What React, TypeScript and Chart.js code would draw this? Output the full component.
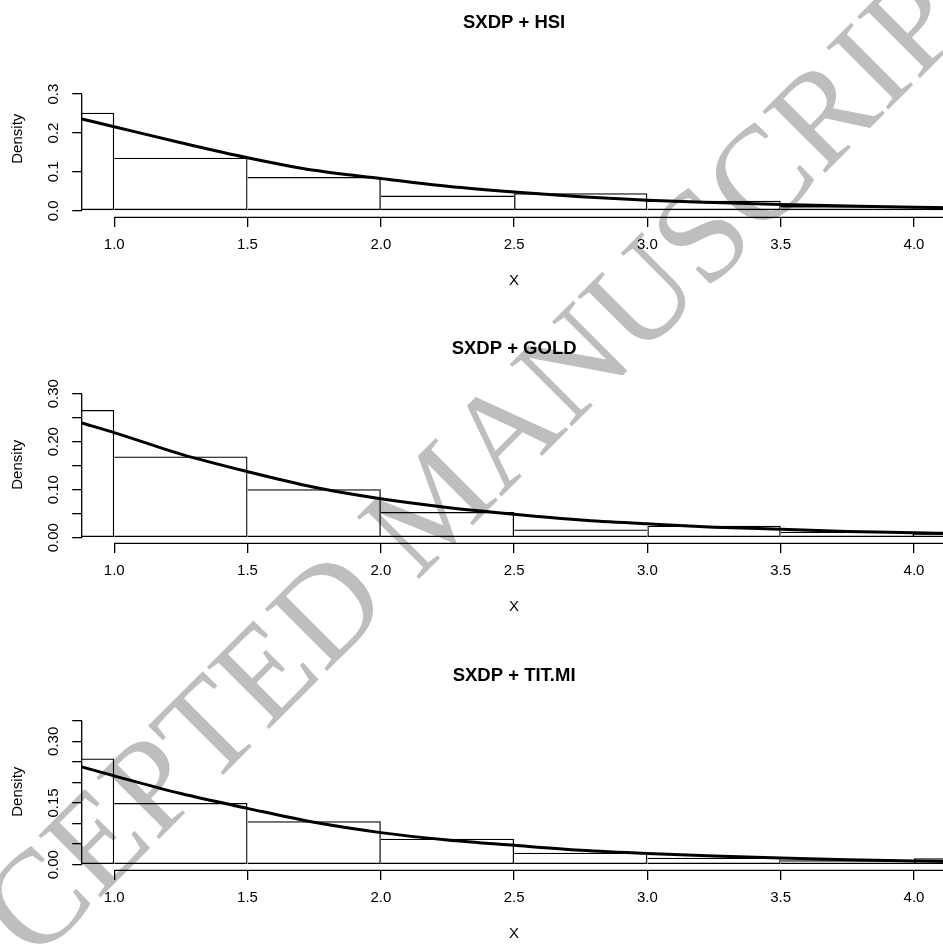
import React, { useEffect, useRef } from "react";
import { Chart, registerables } from "chart.js";

Chart.register(...registerables);

// ---------- data ----------
const panelTitles = ["SXDP + HSI", "SXDP + GOLD", "SXDP + TIT.MI"];

// histogram bins (width 0.5), given by their centres
const binCenters = [0.75, 1.25, 1.75, 2.25, 2.75, 3.25, 3.75, 4.25];
const densityHSI = [0.252, 0.1365, 0.087, 0.039, 0.045, 0.026, 0.012, 0.006];
const densityGOLD = [0.266, 0.169, 0.101, 0.0535, 0.0172, 0.025, 0.0125, 0.009];
const densityTIT = [0.2586, 0.15, 0.1055, 0.0632, 0.029, 0.017, 0.011, 0.0155];

// fitted density curve
const curveX = [0.878, 1.0, 1.25, 1.5, 1.75, 2.0, 2.25, 2.5, 2.75, 3.0, 3.25, 3.5, 3.75, 4.0, 4.122];
const curveHSI = [0.236, 0.216, 0.175, 0.1365, 0.104, 0.083, 0.063, 0.048, 0.036, 0.027, 0.021, 0.016, 0.012, 0.009, 0.008];
const curveGOLD = [0.239, 0.219, 0.174, 0.1375, 0.105, 0.081, 0.063, 0.049, 0.037, 0.029, 0.022, 0.0175, 0.013, 0.0104, 0.009];
const curveTIT = [0.238, 0.216, 0.173, 0.137, 0.103, 0.078, 0.06, 0.047, 0.035, 0.027, 0.021, 0.016, 0.012, 0.009, 0.008];

// axes
const xRange = [0.878, 4.122];
const xTicks = [1.0, 1.5, 2.0, 2.5, 3.0, 3.5, 4.0];
const xTickLabels = ["1.0", "1.5", "2.0", "2.5", "3.0", "3.5", "4.0"];

const yTicksHSI = [0, 0.1, 0.2, 0.3];
const yLabelsHSI = ["0.0", "0.1", "0.2", "0.3"];
const yRangeHSI = [-0.017, 0.3877];

const yTicksGOLD = [0, 0.05, 0.1, 0.15, 0.2, 0.25, 0.3];
const yLabelsGOLD = ["0.00", "", "0.10", "", "0.20", "", "0.30"];
const yRangeGOLD = [-0.0119, 0.316];

const yTicksTIT = [0, 0.05, 0.1, 0.15, 0.2, 0.25, 0.3, 0.35];
const yLabelsTIT = ["0.00", "", "", "0.15", "", "", "0.30", ""];
const yRangeTIT = [-0.0139, 0.369];

const xAxisTitle = "X";
const yAxisTitle = "Density";
const watermarkText = "ACCEPTED MANUSCRIPT";

// ---------- drawing ----------
const FONT = '"Liberation Sans", Arial, Helvetica, sans-serif';
const LW = 1.3;

// R-style axis lines: y from first to last tick, x from first tick to the right edge
const rAxisLines = {
  id: "rAxisLines",
  afterDraw(chart: any) {
    const { ctx, chartArea, scales } = chart;
    const x = scales.x;
    const y = scales.y;
    ctx.save();
    ctx.strokeStyle = "#000";
    ctx.lineWidth = LW;
    ctx.beginPath();
    const yt = y.ticks;
    ctx.moveTo(chartArea.left, y.getPixelForValue(yt[0].value));
    ctx.lineTo(chartArea.left, y.getPixelForValue(yt[yt.length - 1].value));
    ctx.moveTo(x.getPixelForValue(x.ticks[0].value), chartArea.bottom);
    ctx.lineTo(chartArea.right, chartArea.bottom);
    ctx.stroke();
    ctx.restore();
  },
};

type PanelProps = {
  title: string;
  bars: number[];
  curve: number[];
  yTicks: number[];
  yLabels: string[];
  yRange: number[];
  yPad: number;
  top: number;
};

const CANVAS_W = 960;
const CANVAS_H = 327;

function Panel({ title, bars, curve, yTicks, yLabels, yRange, yPad, top }: PanelProps) {
  const ref = useRef<HTMLCanvasElement>(null);
  useEffect(() => {
    // a shared edge between two bins is drawn once, by the taller bin
    const barBorder = (c: any) => {
      const i = c.dataIndex;
      if (i === undefined) return LW;
      const n = bars.length;
      const left = i === 0 || bars[i] >= bars[i - 1] ? LW : 0;
      const right = i === n - 1 || bars[i] > bars[i + 1] ? LW : 0;
      return { top: LW, bottom: LW, left, right };
    };
    const chart = new Chart(ref.current as HTMLCanvasElement, {
      type: "bar",
      data: {
        datasets: [
          {
            type: "line",
            data: curveX.map((x, i) => ({ x, y: curve[i] })),
            borderColor: "#000",
            borderWidth: 3,
            pointRadius: 0,
            cubicInterpolationMode: "monotone",
            fill: false,
            order: 0,
          } as any,
          {
            type: "bar",
            data: binCenters.map((x, i) => ({ x, y: bars[i] })),
            backgroundColor: "rgba(0,0,0,0)",
            borderColor: "#000",
            borderWidth: barBorder,
            borderSkipped: false,
            inflateAmount: 0,
            barPercentage: 1,
            categoryPercentage: 1,
            order: 1,
          } as any,
        ],
      },
      options: {
        animation: false,
        responsive: false,
        events: [],
        layout: { padding: { left: 0, right: CANVAS_W - 946.5, top: 0, bottom: 0 } },
        plugins: {
          legend: { display: false },
          tooltip: { enabled: false },
          title: {
            display: true,
            text: title,
            fullSize: false,
            color: "#000",
            font: { family: FONT, size: 18.5, weight: "bold", lineHeight: 1.2 },
            padding: { top: 11.4, bottom: 26.4 },
          },
        },
        scales: {
          x: {
            type: "linear",
            min: xRange[0],
            max: xRange[1],
            offset: false,
            bounds: "data",
            border: { display: false },
            grid: {
              display: true,
              offset: false,
              drawOnChartArea: false,
              drawTicks: true,
              tickLength: 9.5,
              color: "#000",
              lineWidth: LW,
            },
            afterBuildTicks: (s: any) => {
              s.ticks = xTicks.map((v) => ({ value: v }));
            },
            afterFit: (s: any) => {
              s.height = CANVAS_H - 217.4;
            },
            ticks: {
              autoSkip: false,
              maxRotation: 0,
              minRotation: 0,
              padding: 9.4,
              color: "#000",
              font: { family: FONT, size: 15 },
              callback: (_v: any, i: number) => xTickLabels[i],
            },
            title: {
              display: true,
              text: xAxisTitle,
              color: "#000",
              font: { family: FONT, size: 15 },
              padding: { top: 0, bottom: 37 },
            },
          },
          y: {
            type: "linear",
            min: yRange[0],
            max: yRange[1],
            bounds: "data",
            border: { display: false },
            grid: {
              display: true,
              drawOnChartArea: false,
              drawTicks: true,
              tickLength: 9.5,
              color: "#000",
              lineWidth: LW,
            },
            afterBuildTicks: (s: any) => {
              s.ticks = yTicks.map((v) => ({ value: v }));
            },
            afterFit: (s: any) => {
              s.width = 81.7;
            },
            ticks: {
              autoSkip: false,
              minRotation: 90,
              maxRotation: 90,
              crossAlign: "center",
              padding: yPad,
              color: "#000",
              font: { family: FONT, size: 15 },
              callback: (_v: any, i: number) => yLabels[i],
            },
            title: {
              display: true,
              text: yAxisTitle,
              color: "#000",
              font: { family: FONT, size: 15 },
              padding: { top: 9, bottom: 0 },
            },
          },
        },
      } as any,
      plugins: [rAxisLines],
    });
    return () => chart.destroy();
  }, []);
  return (
    <canvas
      ref={ref}
      width={CANVAS_W}
      height={CANVAS_H}
      style={{ position: "absolute", left: 0, top, width: CANVAS_W, height: CANVAS_H }}
    />
  );
}

function Watermark() {
  const ref = useRef<HTMLCanvasElement>(null);
  useEffect(() => {
    const c = ref.current as HTMLCanvasElement;
    const ctx = c.getContext("2d") as CanvasRenderingContext2D;
    ctx.clearRect(0, 0, c.width, c.height);
    ctx.save();
    ctx.translate(-97, 1095);
    ctx.rotate(-Math.PI / 4);
    ctx.font = '134px "Liberation Serif", "DejaVu Serif", serif';
    ctx.fillStyle = "rgb(190,190,190)";
    ctx.textBaseline = "alphabetic";
    ctx.fillText(watermarkText, 0, 0);
    ctx.restore();
  }, []);
  return (
    <canvas
      ref={ref}
      width={943}
      height={945}
      style={{ position: "absolute", left: 0, top: 0, width: 943, height: 945 }}
    />
  );
}

export default function App() {
  useEffect(() => {
    document.body.style.margin = "0";
  }, []);
  return (
    <div
      style={{
        position: "absolute",
        left: 0,
        top: 0,
        width: 943,
        height: 945,
        overflow: "hidden",
        background: "#fff",
      }}
    >
      <Watermark />
      <Panel
        title={panelTitles[0]}
        bars={densityHSI}
        curve={curveHSI}
        yTicks={yTicksHSI}
        yLabels={yLabelsHSI}
        yRange={yRangeHSI}
        yPad={7.8}
        top={0}
      />
      <Panel
        title={panelTitles[1]}
        bars={densityGOLD}
        curve={curveGOLD}
        yTicks={yTicksGOLD}
        yLabels={yLabelsGOLD}
        yRange={yRangeGOLD}
        yPad={3.6}
        top={326}
      />
      <Panel
        title={panelTitles[2]}
        bars={densityTIT}
        curve={curveTIT}
        yTicks={yTicksTIT}
        yLabels={yLabelsTIT}
        yRange={yRangeTIT}
        yPad={3.6}
        top={653}
      />
    </div>
  );
}
